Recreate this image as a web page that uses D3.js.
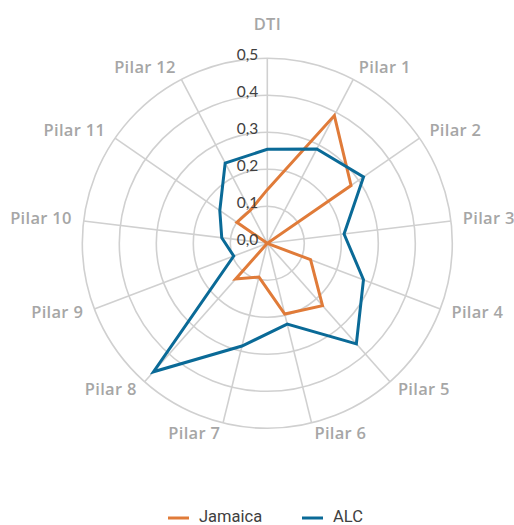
<!DOCTYPE html>
<html><head><meta charset="utf-8">
<script src="https://cdn.jsdelivr.net/npm/d3@7"></script>
<style>html,body{margin:0;padding:0;background:#fff}svg{display:block}</style>
</head><body>
<svg id="chart" width="514" height="525"></svg>
<script>
const axes = ["DTI","Pilar 1","Pilar 2","Pilar 3","Pilar 4","Pilar 5","Pilar 6","Pilar 7","Pilar 8","Pilar 9","Pilar 10","Pilar 11","Pilar 12"];
const jamaica = [0.145, 0.39, 0.275, 0.0, 0.125, 0.225, 0.197, 0.094, 0.129, 0.0, 0.0, 0.10, 0.10];
const alc = [0.254, 0.288, 0.316, 0.209, 0.278, 0.363, 0.225, 0.286, 0.464, 0.097, 0.124, 0.156, 0.245];
const ticks = [0, 0.1, 0.2, 0.3, 0.4, 0.5];
const tickLabels = ["0,0","0,1","0,2","0,3","0,4","0,5"];
const seriesNames = ["Jamaica","ALC"];
const colors = ["#E07B39","#0A6A97"];

const svg = d3.select("#chart");
const cx = 267.3, cy = 243.3, R = 185;
const r = d3.scaleLinear().domain([0, 0.5]).range([0, R]);
const angle = (i) => i * 2 * Math.PI / axes.length;

const g = svg.append("g").attr("transform", `translate(${cx},${cy})`);
const gridColor = "#d0d0d0";

// circles
g.selectAll("circle.grid").data(ticks.filter(t => t > 0)).enter().append("circle")
  .attr("r", d => r(d)).attr("fill", "none").attr("stroke", gridColor).attr("stroke-width", 1.6);
// spokes
g.selectAll("line.spoke").data(axes).enter().append("line")
  .attr("x1", 0).attr("y1", 0)
  .attr("x2", (d,i) => r(0.5) * Math.sin(angle(i)))
  .attr("y2", (d,i) => -r(0.5) * Math.cos(angle(i)))
  .attr("stroke", gridColor).attr("stroke-width", 1.6);

// series
const line = d3.lineRadial().angle((d,i) => angle(i)).radius(d => r(d)).curve(d3.curveLinearClosed);
[jamaica, alc].forEach((s, k) => {
  g.append("path").attr("d", line(s)).attr("fill", "none")
    .attr("stroke", colors[k]).attr("stroke-width", 3).attr("stroke-linejoin", "miter");
});

// tick labels
g.selectAll("text.tick").data(ticks).enter().append("text")
  .attr("x", -9).attr("y", d => -r(d) - 2)
  .attr("text-anchor", "end").attr("dominant-baseline", "middle")
  .attr("font-family", "Lato, 'Open Sans', sans-serif").attr("font-size", 15.5)
  .attr("fill", "#404040")
  .text((d,i) => tickLabels[i]);

// axis labels
const LR = 197;
g.selectAll("text.axis").data(axes).enter().append("text")
  .attr("x", (d,i) => LR * Math.sin(angle(i)))
  .attr("y", (d,i) => i === 0 ? -r(0.5) - 33 : -LR * Math.cos(angle(i)))
  .attr("text-anchor", (d,i) => i === 0 ? "middle" : (Math.sin(angle(i)) > 0 ? "start" : "end"))
  .attr("dominant-baseline", "middle")
  .attr("font-family", "'Open Sans', sans-serif").attr("font-weight", 600).attr("font-size", 16.5)
  .attr("letter-spacing", 0.3)
  .attr("fill", "#a6a6a6")
  .text(d => d);

// legend
const leg = svg.append("g");
const legX = [168, 302];
seriesNames.forEach((n, k) => {
  leg.append("line").attr("x1", legX[k]).attr("x2", legX[k] + 21).attr("y1", 518).attr("y2", 518)
    .attr("stroke", colors[k]).attr("stroke-width", 3);
  leg.append("text").attr("x", legX[k] + 31).attr("y", 518).attr("dominant-baseline", "middle")
    .attr("font-family", "Roboto, sans-serif").attr("font-size", 16.5).attr("fill", "#404040").text(n);
});
</script>
</body></html>
